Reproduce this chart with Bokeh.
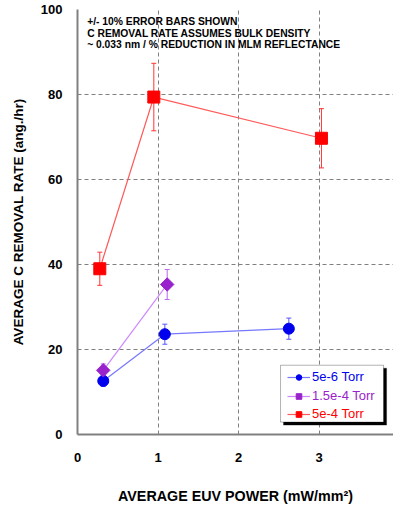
from bokeh.plotting import figure
from bokeh.models import (ColumnDataSource, Whisker, Legend, LegendItem, Label,
                          BoxAnnotation, Range1d, FixedTicker)
from bokeh.embed import file_html
from bokeh.resources import INLINE

# ---- data ----
power_5e6 = [0.32, 1.085, 2.625]
rate_5e6 = [12.6, 23.6, 24.9]
power_15e4 = [0.32, 1.114]
rate_15e4 = [15.1, 35.3]
power_5e4 = [0.277, 0.948, 3.03]
rate_5e4 = [39.0, 79.4, 69.7]
err_frac = 0.10  # +/- 10 % error bars
series_labels = ["5e-6 Torr", "1.5e-4 Torr", "5e-4 Torr"]
x_ticks = [0, 1, 2, 3, 4]
y_ticks = [0, 20, 40, 60, 80, 100]
notes = ["+/- 10% ERROR BARS SHOWN",
         "C REMOVAL RATE ASSUMES BULK DENSITY",
         "~ 0.033 nm / % REDUCTION IN MLM REFLECTANCE"]

FONT = "Liberation Sans"

p = figure(width=393, height=506, output_backend="svg", toolbar_location=None,
           x_range=Range1d(0, 3.925), y_range=Range1d(0, 100),
           min_border_left=77, min_border_right=0, min_border_top=9,
           min_border_bottom=72)
p.outline_line_color = None
p.background_fill_color = "white"

# axes
for ax in (p.xaxis[0], p.yaxis[0]):
    ax.axis_line_color = "#808080"
    ax.axis_line_width = 2
    ax.major_tick_line_color = None
    ax.minor_tick_line_color = None
    ax.major_label_text_font = FONT
    ax.major_label_text_font_style = "bold"
    ax.major_label_text_font_size = "13px"
    ax.major_label_text_color = "black"
    ax.axis_label_text_font = FONT
    ax.axis_label_text_font_style = "bold"
    ax.axis_label_text_color = "black"
p.xaxis.axis_label_text_font_size = "14.3px"
p.yaxis.axis_label_text_font_size = "13.5px"

p.xaxis.ticker = FixedTicker(ticks=x_ticks)
p.yaxis.ticker = FixedTicker(ticks=y_ticks)
p.xaxis.axis_label = "AVERAGE EUV POWER (mW/mm\u00b2)"
p.yaxis.axis_label = "AVERAGE C REMOVAL RATE (ang./hr)"
p.xaxis.major_label_standoff = 12
p.yaxis.major_label_standoff = 9
p.xaxis.axis_label_standoff = 23
p.yaxis.axis_label_standoff = 12

p.xgrid.ticker = FixedTicker(ticks=[1, 2, 3])
p.ygrid.ticker = FixedTicker(ticks=[20, 40, 60, 80])
for g in (p.xgrid[0], p.ygrid[0]):
    g.grid_line_color = "#808080"
    g.grid_line_dash = "4 3"
    g.grid_line_width = 1

series = [
    (power_5e6, rate_5e6, "#0000ee", "#7777ff", "#5555ff", "circle", 11, 0.0),
    (power_15e4, rate_15e4, "#9922cc", "#cc88ff", "#bb66ee", "square", 9.5, 0.785398),
    (power_5e4, rate_5e4, "#ff0000", "#ff5a5a", "#ff3333", "square", 12, 0.0),
]

legend_renderers = []
for xs, ys, mcol, lcol, ecol, marker, size, ang in series:
    src = ColumnDataSource(dict(
        x=xs, y=ys,
        lo=[v * (1 - err_frac) for v in ys],
        hi=[v * (1 + err_frac) for v in ys]))
    w = Whisker(source=src, base="x", upper="hi", lower="lo", dimension="height",
                line_color=ecol, line_width=1)
    w.upper_head.size = 5
    w.lower_head.size = 5
    w.upper_head.line_color = ecol
    w.lower_head.line_color = ecol
    p.add_layout(w)
    ln = p.line("x", "y", source=src, line_color=lcol, line_width=1.2)
    sc = p.scatter("x", "y", source=src, marker=marker, size=size, angle=ang,
                   fill_color=mcol, line_color=mcol)
    legend_renderers.append((ln, sc, mcol))

# notes
note_y = [97.1, 94.4, 91.7]
for txt, yy in zip(notes, note_y):
    p.add_layout(Label(x=0.12, y=yy, text=txt, text_font=FONT,
                       text_font_style="bold", text_font_size="10.3px",
                       text_color="black", text_baseline="middle"))

# legend frame with shadow
p.add_layout(BoxAnnotation(left=2.559, right=3.839, bottom=2.21, top=15.6,
                           fill_color="black", fill_alpha=1, line_color="black"))
p.add_layout(BoxAnnotation(left=2.522, right=3.801, bottom=2.92, top=16.3,
                           fill_color="white", fill_alpha=1, line_color="black",
                           line_width=1))

legend_y = [50, 31, 13]
for (ln, sc, col), lab, ly in zip(legend_renderers, series_labels, legend_y):
    lg = Legend(items=[LegendItem(label=lab, renderers=[ln, sc])],
                location=(210, ly), padding=0, margin=0, spacing=0,
                border_line_alpha=0, background_fill_alpha=0,
                glyph_width=23, glyph_height=14, label_height=14,
                label_standoff=2, label_text_font=FONT,
                label_text_font_size="13px", label_text_color=col)
    p.add_layout(lg, "center")

open("out.html", "w").write(file_html(p, INLINE))
